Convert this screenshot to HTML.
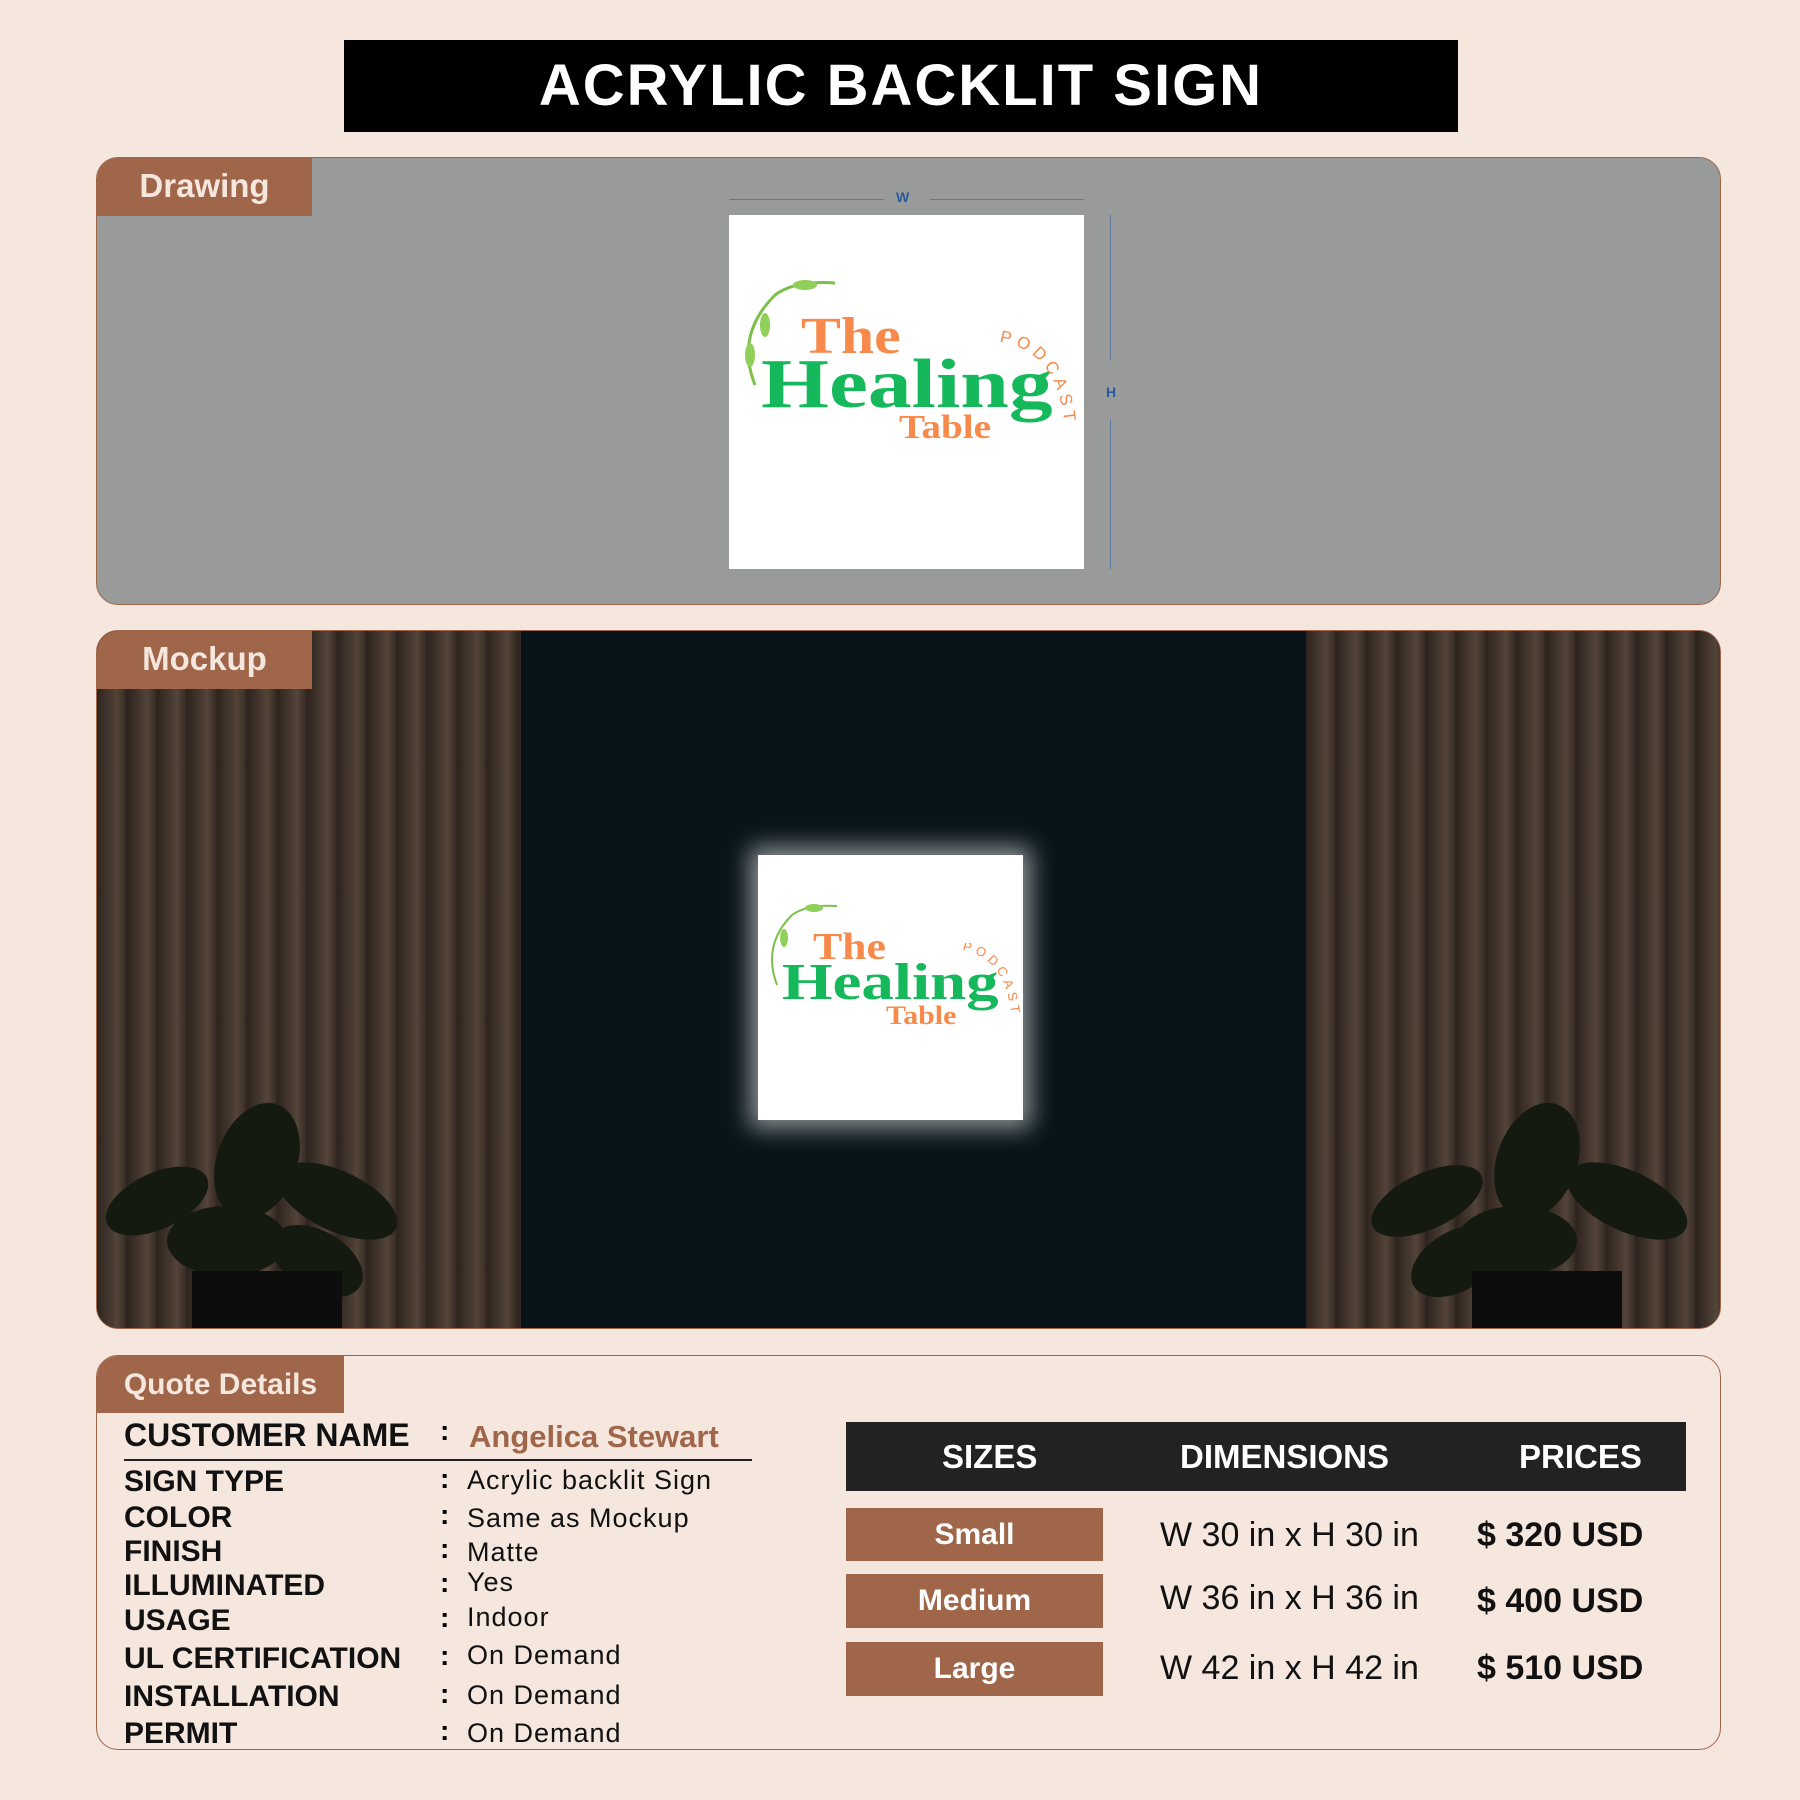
<!DOCTYPE html>
<html><head><meta charset="utf-8"><style>
*{margin:0;padding:0;box-sizing:border-box}
body{width:1800px;height:1800px;background:#f5e6de;font-family:"Liberation Sans",sans-serif;position:relative;overflow:hidden}
.abs{position:absolute}
.title{left:344px;top:40px;width:1114px;height:92px;background:#000;color:#fff;font-weight:bold;font-size:58px;text-align:center;line-height:92px;letter-spacing:2px}
.panel{left:96px;width:1625px;border:1px solid #a0664a;border-radius:22px;overflow:hidden}
.tab{background:#a0664a;color:#f5e6de;font-weight:bold;font-size:33px;text-align:center}
.logo{position:absolute;font-family:"Liberation Serif",serif;font-weight:bold;white-space:nowrap}
.lbl{position:absolute;left:124px;font-weight:bold;font-size:30px;color:#111}
.col{position:absolute;left:440px;font-size:28px;font-weight:bold}
.val{position:absolute;left:467px;font-size:27px;color:#111;letter-spacing:1px}
.btn{position:absolute;left:846px;width:257px;background:#a0664a;color:#fff;font-weight:bold;font-size:30px;text-align:center}
.dim{position:absolute;left:1160px;font-size:34px;color:#111}
.pr{position:absolute;left:1477px;font-size:34px;font-weight:bold;color:#111}
.wood{background:repeating-linear-gradient(90deg,#2e241e 0px,#43362d 12px,#54443a 20px,#3a2e26 28px,#2e241e 30px)}
</style></head><body>
<div class="abs title">ACRYLIC BACKLIT SIGN</div>

<div class="abs panel" style="top:157px;height:448px;background:#999b9a">
  <div class="abs tab" style="left:0;top:0;width:215px;height:58px;line-height:56px">Drawing</div>
</div>
<div class="abs" style="left:729px;top:199px;width:155px;height:1px;background:#5a7aa0"></div>
<div class="abs" style="left:930px;top:199px;width:154px;height:1px;background:#5a7aa0"></div>
<div class="abs" style="left:896px;top:189px;font-size:14px;color:#2a5a9a;font-weight:bold">W</div>
<div class="abs" style="left:1110px;top:215px;width:1px;height:145px;background:#5a7aa0"></div>
<div class="abs" style="left:1110px;top:420px;width:1px;height:149px;background:#5a7aa0"></div>
<div class="abs" style="left:1106px;top:384px;font-size:14px;color:#2a5a9a;font-weight:bold">H</div>
<div class="abs" style="left:729px;top:215px;width:355px;height:354px;background:#fff">
  <div class="logo" style="left:72px;top:92px;font-size:52px;color:#f7894a;transform:scaleX(1.15);transform-origin:left">The</div>
  <div class="logo" style="left:32px;top:130px;font-size:70px;color:#15b85a;transform:scaleX(1.25);transform-origin:left">Healing</div>
  <div class="logo" style="left:170px;top:194px;font-size:34px;color:#f7894a;transform:scaleX(1.15);transform-origin:left">Table</div>
  <svg class="abs" style="left:265px;top:115px" width="90" height="120"><path id="arc" d="M5 12 Q68 20 72 110" fill="none"/><text font-size="17" fill="#f7894a" letter-spacing="5" font-family="Liberation Sans"><textPath href="#arc">PODCAST</textPath></text></svg>
  <svg class="abs" style="left:6px;top:60px" width="110" height="120"><path d="M20 110 Q0 60 40 20 Q60 5 100 8" stroke="#7cbf4a" stroke-width="3" fill="none"/><ellipse cx="30" cy="50" rx="5" ry="12" fill="#8fcf5a"/><ellipse cx="15" cy="80" rx="5" ry="12" fill="#8fcf5a"/><ellipse cx="70" cy="10" rx="12" ry="5" fill="#8fcf5a"/></svg>
</div>

<div class="abs panel" style="top:630px;height:699px;background:#0b1517">
  <div class="abs wood" style="left:0;top:0;width:424px;height:699px"></div>
  <div class="abs wood" style="left:1209px;top:0;width:416px;height:699px"></div>
  <div class="abs" style="left:424px;top:0;width:785px;height:699px;background:#08141a"></div>
  <svg class="abs" style="left:0;top:460px" width="360" height="239"><g fill="#141a10">
    <ellipse cx="60" cy="110" rx="55" ry="28" transform="rotate(-25 60 110)"/>
    <ellipse cx="160" cy="70" rx="40" ry="60" transform="rotate(20 160 70)"/>
    <ellipse cx="240" cy="110" rx="65" ry="30" transform="rotate(25 240 110)"/>
    <ellipse cx="130" cy="150" rx="60" ry="35"/>
    <ellipse cx="220" cy="170" rx="50" ry="30" transform="rotate(30 220 170)"/>
    </g><rect x="95" y="180" width="150" height="60" fill="#0d0d0d"/></svg>
  <svg class="abs" style="left:1270px;top:460px" width="355" height="239"><g fill="#141a10">
    <ellipse cx="60" cy="110" rx="60" ry="28" transform="rotate(-25 60 110)"/>
    <ellipse cx="170" cy="70" rx="40" ry="60" transform="rotate(20 170 70)"/>
    <ellipse cx="260" cy="110" rx="65" ry="30" transform="rotate(25 260 110)"/>
    <ellipse cx="150" cy="150" rx="60" ry="35"/>
    <ellipse cx="90" cy="170" rx="50" ry="30" transform="rotate(-30 90 170)"/>
    </g><rect x="105" y="180" width="150" height="60" fill="#0d0d0d"/></svg>
  <div class="abs tab" style="left:0;top:0;width:215px;height:58px;line-height:56px">Mockup</div>
</div>
<div class="abs" style="left:758px;top:855px;width:265px;height:265px;background:#fff;box-shadow:0 0 22px 8px rgba(255,255,255,0.55)">
  <div class="logo" style="left:55px;top:70px;font-size:38px;color:#f7894a;transform:scaleX(1.15);transform-origin:left">The</div>
  <div class="logo" style="left:24px;top:98px;font-size:52px;color:#15b85a;transform:scaleX(1.25);transform-origin:left">Healing</div>
  <div class="logo" style="left:128px;top:146px;font-size:26px;color:#f7894a;transform:scaleX(1.15);transform-origin:left">Table</div>
  <svg class="abs" style="left:200px;top:88px" width="65" height="90"><path id="arc2" d="M4 7 Q50 15 54 80" fill="none"/><text font-size="13" fill="#f7894a" letter-spacing="4" font-family="Liberation Sans"><textPath href="#arc2">PODCAST</textPath></text></svg>
  <svg class="abs" style="left:4px;top:45px" width="85" height="90"><path d="M15 85 Q0 45 30 15 Q45 4 75 6" stroke="#7cbf4a" stroke-width="2" fill="none"/><ellipse cx="22" cy="38" rx="4" ry="9" fill="#8fcf5a"/><ellipse cx="52" cy="8" rx="9" ry="4" fill="#8fcf5a"/></svg>
</div>

<div class="abs panel" style="top:1355px;height:395px;background:#f5e6de">
  <div class="abs tab" style="left:0;top:0;width:247px;height:57px;line-height:57px;font-size:30px">Quote Details</div>
</div>
<div class="lbl" style="top:1417px;font-size:32px">CUSTOMER NAME</div>
<div class="col" style="top:1415px">:</div>
<div class="abs" style="left:469px;top:1419px;font-size:31px;font-weight:bold;color:#a0664a">Angelica Stewart</div>
<div class="abs" style="left:124px;top:1459px;width:628px;height:2px;background:#222"></div>
<div class="lbl" style="top:1465px">SIGN TYPE</div><div class="col" style="top:1463px">:</div><div class="val" style="top:1465px">Acrylic backlit Sign</div>
<div class="lbl" style="top:1501px">COLOR</div><div class="col" style="top:1499px">:</div><div class="val" style="top:1503px">Same as Mockup</div>
<div class="lbl" style="top:1535px">FINISH</div><div class="col" style="top:1533px">:</div><div class="val" style="top:1537px">Matte</div>
<div class="lbl" style="top:1569px">ILLUMINATED</div><div class="col" style="top:1567px">:</div><div class="val" style="top:1567px">Yes</div>
<div class="lbl" style="top:1604px">USAGE</div><div class="col" style="top:1602px">:</div><div class="val" style="top:1602px">Indoor</div>
<div class="lbl" style="top:1642px">UL CERTIFICATION</div><div class="col" style="top:1640px">:</div><div class="val" style="top:1640px">On Demand</div>
<div class="lbl" style="top:1680px">INSTALLATION</div><div class="col" style="top:1678px">:</div><div class="val" style="top:1680px">On Demand</div>
<div class="lbl" style="top:1717px">PERMIT</div><div class="col" style="top:1715px">:</div><div class="val" style="top:1718px">On Demand</div>

<div class="abs" style="left:846px;top:1422px;width:840px;height:69px;background:#222;color:#fff;font-weight:bold;font-size:33px;line-height:69px">
  <span class="abs" style="left:96px">SIZES</span>
  <span class="abs" style="left:334px">DIMENSIONS</span>
  <span class="abs" style="left:673px">PRICES</span>
</div>
<div class="btn" style="top:1508px;height:53px;line-height:53px">Small</div>
<div class="btn" style="top:1574px;height:54px;line-height:54px">Medium</div>
<div class="btn" style="top:1642px;height:54px;line-height:54px">Large</div>
<div class="dim" style="top:1516px">W 30 in x H 30 in</div><div class="pr" style="top:1516px">$ 320 USD</div>
<div class="dim" style="top:1579px">W 36 in x H 36 in</div><div class="pr" style="top:1582px">$ 400 USD</div>
<div class="dim" style="top:1649px">W 42 in x H 42 in</div><div class="pr" style="top:1649px">$ 510 USD</div>
</body></html>
